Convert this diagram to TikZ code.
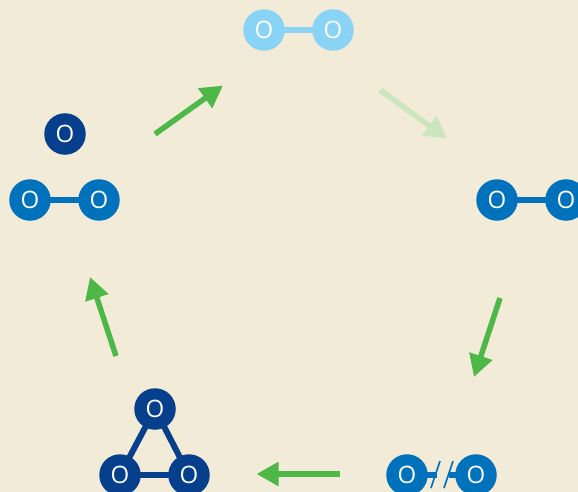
\documentclass[tikz,border=0pt]{standalone}
\usepackage{fontspec}
\setmainfont{Open Sans}
\usepackage{xcolor}
\usetikzlibrary{arrows.meta}
\definecolor{paper}{HTML}{F2EBD8}
\definecolor{skyblue}{HTML}{89D4F5}
\definecolor{midblue}{HTML}{0072BC}
\definecolor{deepblue}{HTML}{063F8C}
\definecolor{green}{HTML}{4DB848}
\definecolor{palegreen}{HTML}{CBE5BE}
\tikzset{
  atom/.style={
    circle,
    minimum size=41.5pt,
    inner sep=0pt,
    outer sep=0pt,
    text=white,
    font=\fontsize{24}{24}\selectfont
  },
  bond/.style={
    line width=6pt,
    shorten >=-1.5pt,
    shorten <=-1.5pt
  },
  step arrow/.style={
    draw=green,
    line width=5.5pt,
    -{Triangle[length=22pt, width=23pt]}
  }
}
\begin{document}
\begin{tikzpicture}[x=1pt,y=-1pt]
  \clip (0,0) rectangle (578,492);
  \fill[paper] (0,0) rectangle (578,492);

  % Top molecule
  \node[atom,fill=skyblue] (a1) at (264,30) {O};
  \node[atom,fill=skyblue] (a2) at (333,30) {O};
  \draw[bond,draw=skyblue] (a1) -- (a2);

  % Right molecule
  \node[atom,fill=midblue] (b1) at (497,200) {O};
  \node[atom,fill=midblue] (b2) at (566,200) {O};
  \draw[bond,draw=midblue] (b1) -- (b2);

  % Broken molecule
  \node[atom,fill=midblue] (c1) at (407,475) {O};
  \node[atom,fill=midblue] (c2) at (476,475) {O};
  \coordinate (c3) at (435,475);
  \coordinate (c4) at (450,475);
  \draw[bond,draw=midblue] (c1) -- (c3);
  \draw[bond,draw=midblue] (c4) -- (c2);
  \coordinate (s1) at (440,461);
  \coordinate (s2) at (431,488);
  \coordinate (s3) at (453,461);
  \coordinate (s4) at (444,488);
  \draw[draw=midblue,line width=1.6pt] (s1) -- (s2);
  \draw[draw=midblue,line width=1.6pt] (s3) -- (s4);

  % Ozone triangle
  \node[atom,fill=deepblue] (d1) at (155,409) {O};
  \node[atom,fill=deepblue] (d2) at (120,475) {O};
  \node[atom,fill=deepblue] (d3) at (189,475) {O};
  \draw[bond,draw=deepblue] (d1) -- (d2);
  \draw[bond,draw=deepblue] (d2) -- (d3);
  \draw[bond,draw=deepblue] (d3) -- (d1);

  % Left molecule and single atom
  \node[atom,fill=midblue] (e1) at (30,200) {O};
  \node[atom,fill=midblue] (e2) at (99,200) {O};
  \draw[bond,draw=midblue] (e1) -- (e2);
  \node[atom,fill=deepblue] (e3) at (65,134) {O};

  % Cycle arrows
  \coordinate (p1) at (155,134);
  \coordinate (q1) at (223,85.5);
  \coordinate (p2) at (380,90);
  \coordinate (q2) at (447,138.5);
  \coordinate (p3) at (500,298);
  \coordinate (q3) at (474,377);
  \coordinate (p4) at (340,474);
  \coordinate (q4) at (256.5,474);
  \coordinate (p5) at (116,356);
  \coordinate (q5) at (90,277);
  \draw[step arrow] (p1) -- (q1);
  \draw[step arrow,draw=palegreen] (p2) -- (q2);
  \draw[step arrow] (p3) -- (q3);
  \draw[step arrow] (p4) -- (q4);
  \draw[step arrow] (p5) -- (q5);
\end{tikzpicture}
\end{document}
